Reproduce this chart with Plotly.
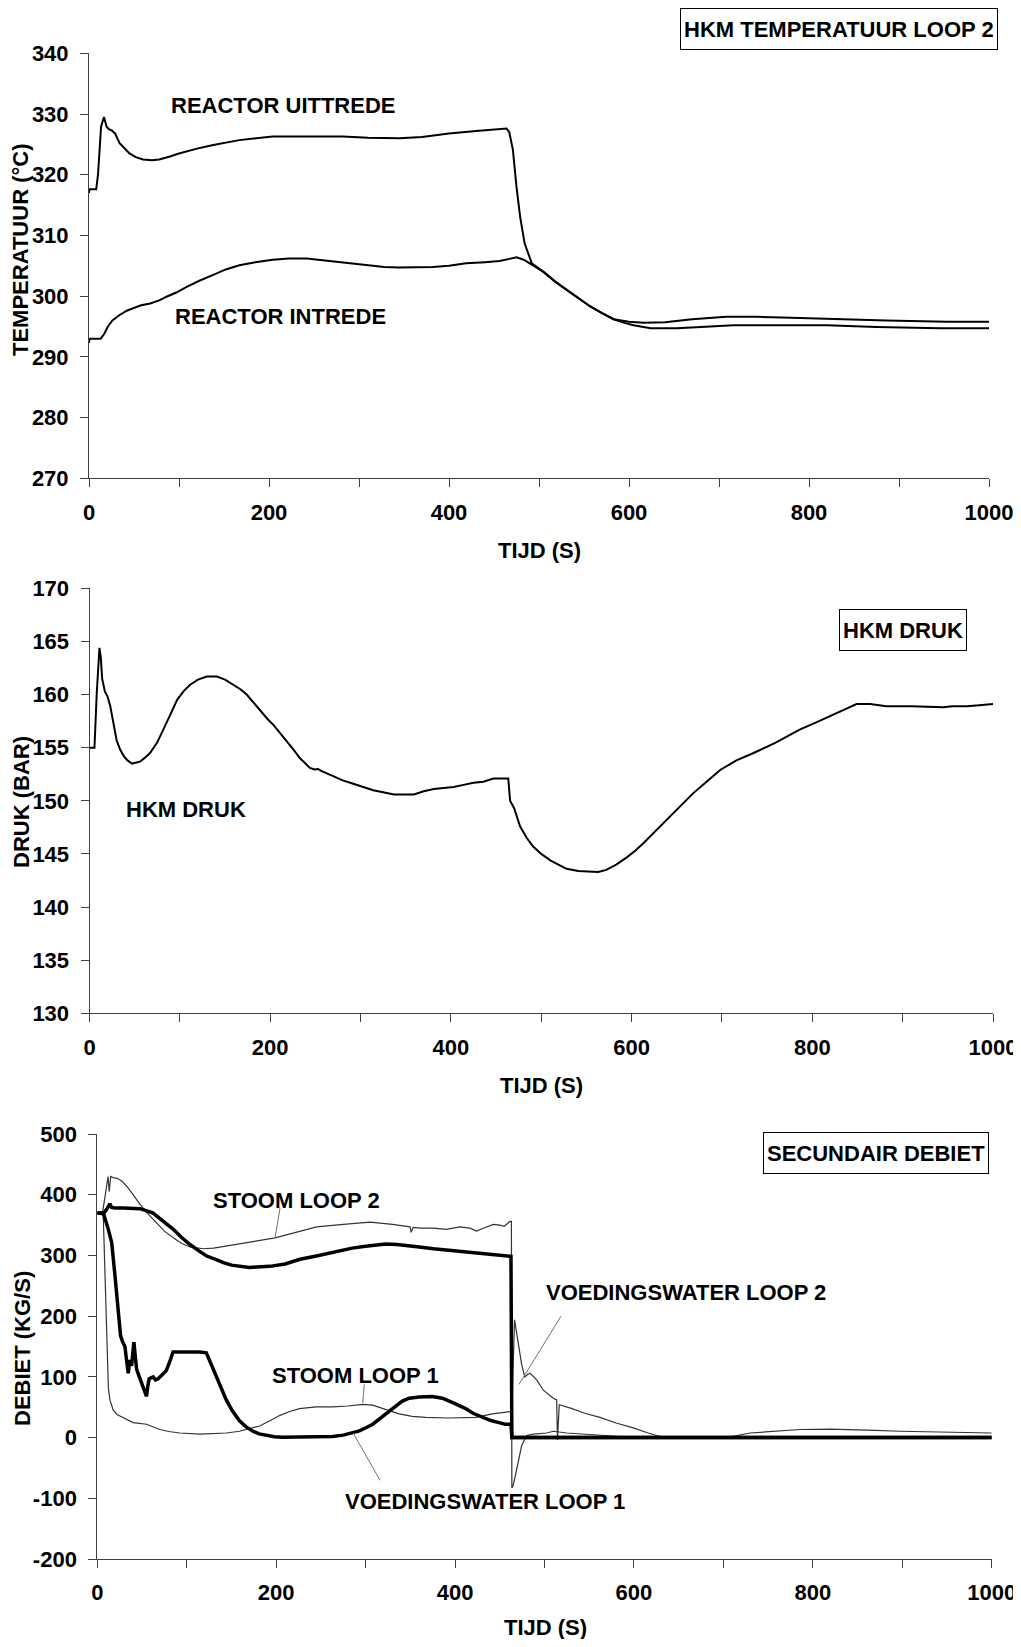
import plotly.graph_objects as go

W, H = 1021, 1647          # browser window
OFF = 8                    # default page body margin
FW, FH = W - OFF, H - 2 * OFF

# ---------------- Panel 1: HKM temperatuur loop 2 ----------------
out_t = [0, 0.5, 8, 10, 13.4, 16.6, 19.6, 22, 25.2, 28.9, 34, 40, 45, 52, 60, 70, 78,
         90, 100, 120, 138, 167, 204, 240, 282, 310, 345, 370, 400, 430, 464, 467,
         471, 475, 479, 484, 492, 505, 518, 531, 545, 557, 570, 583, 600, 616, 640,
         670, 708, 742, 790, 827, 886, 953, 1000]
out_v = [317.0, 317.6, 317.6, 320.0, 327.9, 329.5, 327.9, 327.5, 327.3, 326.8, 325.2,
         324.2, 323.5, 322.9, 322.5, 322.4, 322.5, 323.0, 323.5, 324.3, 324.9, 325.7,
         326.3, 326.3, 326.3, 326.1, 326.0, 326.2, 326.8, 327.2, 327.6, 327.0, 324.1,
         318.0, 313.1, 308.7, 305.4, 304.0, 302.4, 301.0, 299.6, 298.3, 297.2, 296.2,
         295.8, 295.6, 295.7, 296.2, 296.6, 296.6, 296.4, 296.2, 296.0, 295.8, 295.8]

in_t = [0, 0.5, 13, 17, 21, 26, 34, 42, 49, 58, 68, 78, 86, 97, 108, 122, 138, 152,
        167, 185, 204, 222, 242, 260, 271, 290, 308, 328, 345, 365, 382, 400, 419,
        440, 456, 466, 475, 483, 490, 505, 518, 531, 545, 557, 570, 583, 595, 605,
        624, 653, 680, 716, 820, 875, 946, 1000]
in_v = [292.3, 293.0, 293.0, 293.8, 295.0, 296.0, 296.9, 297.6, 298.0, 298.5, 298.8,
        299.3, 299.9, 300.6, 301.5, 302.5, 303.5, 304.4, 305.1, 305.6, 306.0, 306.2,
        306.2, 305.9, 305.7, 305.4, 305.1, 304.8, 304.7, 304.7, 304.8, 305.0, 305.4,
        305.6, 305.8, 306.1, 306.4, 306.0, 305.4, 304.0, 302.4, 301.0, 299.6, 298.3,
        297.2, 296.2, 295.6, 295.2, 294.7, 294.7, 294.9, 295.2, 295.2, 294.9, 294.7,
        294.7]

# ---------------- Panel 2: HKM druk ----------------
p_t = [0, 5.5, 8, 9.5, 11, 12.5, 14, 17, 20, 23, 27, 30, 34, 38, 42, 47, 52, 56, 62,
       67, 75, 82, 90, 97, 104, 111, 120, 130, 141, 150, 159, 167, 174, 182, 189, 197,
       204, 211, 218, 226, 233, 239, 244, 249, 253, 257, 262, 270, 281, 292, 303, 314,
       325, 337, 348, 359, 370, 381, 392, 403, 414, 425, 436, 447, 458, 463.5, 465.5,
       470, 476.5, 484, 491, 500, 510, 519, 528, 541, 554, 563, 572, 583, 595, 604,
       613, 626, 639, 654, 668, 683, 698, 716, 735, 760, 786, 805, 823, 836, 849, 864,
       882, 910, 934, 945, 955, 971, 985, 1000]
p_v = [155.0, 155.0, 160.1, 162.5, 164.4, 163.5, 161.5, 160.3, 159.8, 158.9, 157.0,
       155.7, 154.8, 154.2, 153.8, 153.5, 153.6, 153.7, 154.1, 154.5, 155.5, 156.7,
       158.2, 159.5, 160.3, 160.9, 161.4, 161.7, 161.7, 161.4, 160.9, 160.5, 160.0,
       159.2, 158.4, 157.7, 157.1, 156.4, 155.7, 154.8, 154.0, 153.5, 153.1, 152.95,
       153.0, 152.8, 152.6, 152.3, 151.9, 151.6, 151.3, 151.0, 150.8, 150.6, 150.6,
       150.6, 150.9, 151.1, 151.2, 151.3, 151.5, 151.7, 151.8, 152.1, 152.1, 152.1,
       150.0, 149.3, 147.6, 146.5, 145.7, 145.0, 144.4, 144.0, 143.6, 143.4, 143.3,
       143.3, 143.5, 144.0, 144.7, 145.3, 146.0, 147.1, 148.3, 149.5, 150.7, 151.8,
       152.9, 153.8, 154.5, 155.5, 156.7, 157.4, 158.1, 158.6, 159.1, 159.1, 158.9,
       158.9, 158.85, 158.8, 158.9, 158.9, 159.0, 159.1]

# ---------------- Panel 3: secundair debiet ----------------
fw2_t = [0, 6.7, 10, 14.1, 16, 20, 29, 47.7, 62, 66.4, 75, 85, 94, 103.6, 114, 122.3,
         133, 141, 150, 159.5, 170, 178, 193, 210, 226.6, 245, 264, 285, 300, 312.4,
         322.6, 335, 346, 360, 375.7, 395, 416.7, 434, 445, 460, 462.5, 463.5, 1000]
fw2_v = [370, 369, 375, 385, 379, 378, 378, 377, 370, 365, 355, 343, 330, 318, 307,
         299, 293, 288, 284, 282, 280, 281, 282, 286, 293.6, 299, 305.6, 312, 315, 318,
         319, 318, 316.5, 314, 311, 308, 305, 303, 301, 299, 298.5, 0, 0]

fw1_t = [0, 6.7, 12.3, 16.1, 19.8, 23.5, 26, 28.2, 30.9, 32.5, 34.6, 36.4, 38.3, 40.9,
         43.9, 46, 49.4, 52, 55, 56.5, 58, 62.4, 65, 68, 73.6, 77, 81, 84.7, 95, 105,
         114.5, 121.9, 127, 133, 138.5, 144.2, 151, 159, 166, 174, 181, 188.8, 198,
         207.4, 230, 263.2, 275, 285.5, 293, 300.3, 308, 315.2, 325, 333.8, 341, 348.7,
         360, 374.7, 385.8, 398, 411.8, 420, 430.4, 440, 449, 456, 462.5, 463.5, 1000]
fw1_v = [370, 370, 343, 321, 266, 205, 168, 158, 150, 130, 106, 128, 118, 157, 113, 104,
         91, 82, 68, 85, 97, 100, 95, 97, 104, 110, 125, 141, 141, 141, 141, 139.5, 122,
         102, 82, 62, 44, 27.6, 18, 10.4, 6, 3.5, 1.5, 0.5, 0.5, 1.8, 4, 7.5, 11, 16.1,
         22, 30.5, 42, 53.4, 60, 64.9, 67, 67.8, 64.9, 57, 47.7, 40, 33.3, 28, 24.7, 22,
         22, 0, 0]

st2_t = [0, 6, 9, 10.5, 12, 13.3, 15, 18, 22, 27, 32.8, 40, 47.7, 57, 66.4, 75, 85, 94,
         103.6, 118.5, 130, 141, 170.7, 198.7, 220, 245.3, 275, 305, 330, 349.6, 351,
         353, 362, 375.7, 390, 400, 405.5, 416.7, 424.2, 430, 442.8, 450, 455, 461.4,
         463, 463.5, 465.1, 468.8, 474.5, 480, 487.5, 502.4, 509.9, 524.8, 562, 584.4,
         600, 1000]
st2_v = [370, 372, 400, 420, 430, 405, 430, 428, 427, 423, 414, 400, 384, 368, 354, 340,
         329, 320, 314, 311, 312, 315, 322, 329, 337, 347, 351, 354.7, 351, 347, 338,
         346, 345, 345, 343, 346, 347, 345, 340, 344, 351, 350, 348, 356, 356, -83, -78,
         -53, -13, 3.5, 5.8, 7.5, 10.4, 7.5, 4.6, 1.8, 0, 0]

st1_t = [0, 5, 6.7, 8.6, 10.5, 12.4, 14.1, 17.8, 22, 29, 40, 55, 69.9, 80, 92.2, 114.5,
         130, 144.2, 159, 170, 181.4, 192, 203.7, 215, 226, 244.6, 263.2, 280, 296.6,
         307.8, 322, 337.5, 352, 367.2, 393.3, 423, 441.6, 455, 462, 463.5, 466.5, 470,
         474.5, 478, 481, 483.8, 491.3, 498.7, 505, 509.9, 513.6, 514.5, 516.5, 530,
         545, 562, 580, 599.3, 615, 629.1, 660, 703.7, 729.8, 767, 785.7, 820, 860.2,
         870, 897.5, 940, 998, 1000]
st1_v = [370, 370, 364, 255, 146, 81, 62, 45, 38, 33.3, 24.7, 21.9, 13.3, 10, 7.5, 5.8,
         6.5, 7.5, 10.4, 14, 19, 27, 36.2, 43, 47.7, 50.6, 50.6, 52, 54.6, 53.4, 47, 39,
         35, 33.3, 32.2, 33.3, 39, 41, 43, 43, 194, 160, 120, 100, 104, 106, 95, 78, 70,
         64.7, 62, -4, 54, 48, 40, 33.3, 24, 16, 8, 1.8, 0, 0, 7.5, 12, 13.3, 14, 13.3,
         12, 10.4, 9, 7.5, 7.5]

x_tickvals = [0, 100, 200, 300, 400, 500, 600, 700, 800, 900, 1000]
x_ticktext = ["0", "", "200", "", "400", "", "600", "", "800", "", "1000"]
q_tickvals = [-200, -100, 0, 100, 200, 300, 400, 500]
q_ticktext = ["-200", "-100", "0", "100", "200", "300", "400", "500"]


def px(x):
    return (x - OFF) / FW


def py(y):
    return 1 - (y - OFF) / FH


FAMILY = "Liberation Sans, Arial, sans-serif"
FONT = dict(family=FAMILY, size=22, color="black", weight="bold")
AXCOL = "#404040"

fig = go.Figure()

fig.add_trace(go.Scatter(x=out_t, y=out_v, xaxis="x", yaxis="y", mode="lines",
                         line=dict(color="black", width=2), name="REACTOR UITTREDE"))
fig.add_trace(go.Scatter(x=in_t, y=in_v, xaxis="x", yaxis="y", mode="lines",
                         line=dict(color="black", width=2), name="REACTOR INTREDE"))
fig.add_trace(go.Scatter(x=p_t, y=p_v, xaxis="x2", yaxis="y2", mode="lines",
                         line=dict(color="black", width=2), name="HKM DRUK"))
fig.add_trace(go.Scatter(x=st2_t, y=st2_v, xaxis="x3", yaxis="y3", mode="lines",
                         line=dict(color="#333333", width=1.2), name="STOOM LOOP 2"))
fig.add_trace(go.Scatter(x=st1_t, y=st1_v, xaxis="x3", yaxis="y3", mode="lines",
                         line=dict(color="#333333", width=1.2), name="STOOM LOOP 1"))
fig.add_trace(go.Scatter(x=fw2_t, y=fw2_v, xaxis="x3", yaxis="y3", mode="lines",
                         line=dict(color="black", width=3.5), name="VOEDINGSWATER LOOP 2"))
fig.add_trace(go.Scatter(x=fw1_t, y=fw1_v, xaxis="x3", yaxis="y3", mode="lines",
                         line=dict(color="black", width=3.5), name="VOEDINGSWATER LOOP 1"))


def xax(dom, anchor):
    return dict(domain=dom, anchor=anchor, range=[0, 1000], tickvals=x_tickvals,
                ticktext=x_ticktext, ticks="outside", ticklen=8, tickwidth=1,
                tickcolor=AXCOL, showline=True, linecolor=AXCOL, linewidth=1,
                showgrid=False, zeroline=False, tickfont=FONT, automargin=False,
                ticklabelstandoff=6, ticklabeloverflow="allow", fixedrange=True)


def yax(dom, anchor, rng, dt):
    return dict(domain=dom, anchor=anchor, range=rng, dtick=dt, tick0=rng[0],
                ticks="outside", ticklen=8, tickwidth=1, tickcolor=AXCOL,
                showline=True, linecolor=AXCOL, linewidth=1, showgrid=False,
                zeroline=False, tickfont=FONT, automargin=False,
                ticklabelstandoff=7, ticklabeloverflow="allow", fixedrange=True)


anns = []


def ann(text, x, y, **kw):
    d = dict(text=text, x=px(x), y=py(y), xref="paper", yref="paper",
             showarrow=False, font=FONT, xanchor="center", yanchor="middle")
    d.update(kw)
    anns.append(d)


# axis titles
ann("TEMPERATUUR (°C)", 21, 250, textangle=-90)
ann("TIJD (S)", 539, 551)
ann("DRUK (BAR)", 21, 802, textangle=-90)
ann("TIJD (S)", 541, 1085)
ann("DEBIET (KG/S)", 22, 1349, textangle=-90)
ann("TIJD (S)", 545, 1627)

# boxed titles
ann("HKM TEMPERATUUR LOOP 2", 839, 29, bordercolor="black", borderwidth=1,
    borderpad=3, height=34)
ann("HKM DRUK", 903, 630, bordercolor="black", borderwidth=1, borderpad=3, height=34)
ann("SECUNDAIR DEBIET", 876, 1153, bordercolor="black", borderwidth=1, borderpad=3,
    height=34)

# curve labels
ann("REACTOR UITTREDE", 283, 106)
ann("REACTOR INTREDE", 280.5, 316)
ann("HKM DRUK", 185.5, 809.5)
ann("STOOM LOOP 2", 296, 1200)
ann("STOOM LOOP 1", 355.5, 1375)
ann("VOEDINGSWATER LOOP 1", 485, 1501)
ann("VOEDINGSWATER LOOP 2", 686, 1292)

# leader lines (data coordinates of panel 3)
lead_x0 = [204.3, 298.5, 316.1, 518.4]
lead_y0 = [378.2, 87.6, -70.3, 199.8]
lead_x1 = [198.7, 296.7, 286.2, 471.5]
lead_y1 = [328.8, 57.3, 7.2, 87.6]
shapes = []
for a, b, c, d in zip(lead_x0, lead_y0, lead_x1, lead_y1):
    shapes.append(dict(type="line", xref="x3", yref="y3", x0=a, y0=b, x1=c, y1=d,
                       line=dict(color="#707070", width=1)))

y3 = yax([py(1559), py(1134)], "x3", [-200, 500], 100)
y3.update(tickmode="array", tickvals=q_tickvals, ticktext=q_ticktext)

fig.update_layout(
    width=FW, height=FH, autosize=False,
    margin=dict(l=0, r=0, t=0, b=0),
    paper_bgcolor="white", plot_bgcolor="white",
    showlegend=False,
    xaxis=xax([px(89), px(989)], "y"),
    yaxis=yax([py(478.3), py(53.3)], "x", [270, 340], 10),
    xaxis2=xax([px(89.5), px(993)], "y2"),
    yaxis2=yax([py(1013.3), py(588.3)], "x2", [130, 170], 5),
    xaxis3=xax([px(97.3), px(991.7)], "y3"),
    yaxis3=y3,
    annotations=anns,
    shapes=shapes,
)

fig.write_html("out.html")
